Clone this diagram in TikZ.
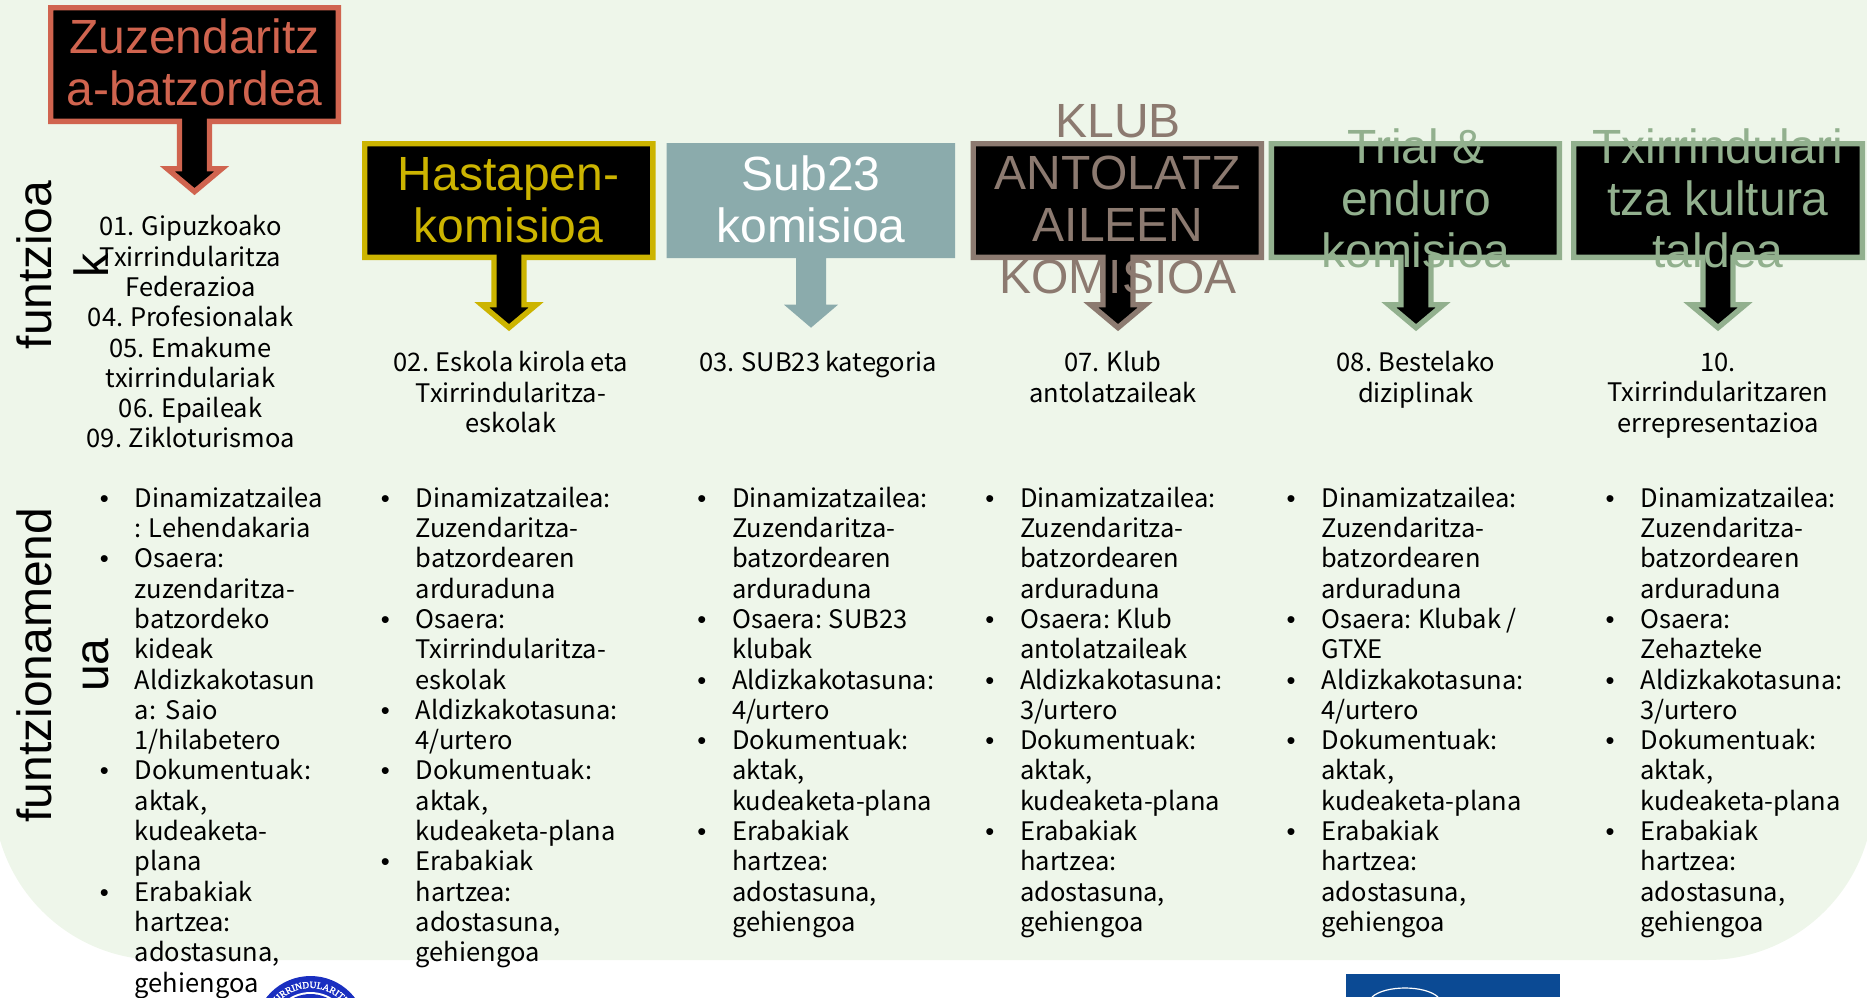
\documentclass[tikz,border=0pt]{standalone}
\usepackage{fontspec}
\setmainfont{Noto Sans CJK SC}[WordSpace=0.85]
\newfontfamily\bulfont{Liberation Sans}
\newfontfamily\titlefont{Liberation Sans}
\newfontfamily\logofont{Liberation Serif}[FakeBold=2]
\usetikzlibrary{decorations.text}
\definecolor{bgpale}{HTML}{EEF6EA}
\definecolor{cred}{HTML}{D0644F}
\definecolor{cyellow}{HTML}{CCB400}
\definecolor{cteal}{HTML}{8BABAC}
\definecolor{cbrown}{HTML}{8C7A70}
\definecolor{cgreen}{HTML}{92B08E}
\definecolor{logoblue}{HTML}{1A2FC0}
\definecolor{logonavy}{HTML}{0B4A94}
\newcommand{\bu}{\makebox[0pt][r]{{\bulfont •}\hspace{26pt}}}
\newcommand{\fl}{\rule{0pt}{20pt}}
\newcommand{\tl}{\rule{0pt}{40pt}}
% outer x1, outer x2, arrow centre, outer top, outer bottom, colour
\newcommand{\calloutbox}[6]{%
  \draw[callout,draw=#6]
    ({#1+2.7},{#4+2.7}) -- ({#2-2.7},{#4+2.7}) -- ({#2-2.7},{#5-2.7})
    -- ({#3+15},{#5-2.7}) -- ({#3+15},{#5+44.7}) -- ({#3+27.3},{#5+44.7})
    -- (#3,{#5+67.6}) -- ({#3-27.3},{#5+44.7}) -- ({#3-15},{#5+44.7})
    -- ({#3-15},{#5-2.7}) -- ({#1+2.7},{#5-2.7}) -- cycle;}
\tikzset{
  callout/.style={fill=black,line width=5.4pt,miter limit=10},
  titletext/.style={anchor=north,inner sep=0pt,align=center,
    font=\titlefont\fontsize{48}{52}\selectfont},
  sidetext/.style={anchor=north,inner sep=0pt,align=center,rotate=90,
    font=\titlefont\fontsize{48}{57}\selectfont},
  centertext/.style={anchor=north,inner sep=0pt,align=center,text=black,
    font=\fontsize{25.5}{30.3}\selectfont},
  listtext/.style={anchor=north west,inner sep=0pt,align=left,text=black,
    font=\fontsize{25.5}{30.3}\selectfont},
}
\begin{document}
\begin{tikzpicture}[x=1pt,y=-1pt]
\useasboundingbox (0,0) rectangle (1867,997);
% page panel
\fill[bgpale] (-6.7,0) -- (-6.7,793.3) .. controls (-6.7,885.3) and (68,960) .. (160,960)
  -- (1707,960) .. controls (1799,960) and (1873.7,885.3) .. (1873.7,793.3) -- (1873.7,0) -- cycle;
% logos (cut by the page edge)
\fill[logoblue] (310.5,1032) circle[radius=56];
\fill[white] (310.5,1032) circle[radius=40];
\fill[logoblue] (310.5,1032) circle[radius=38];
\path[decorate,decoration={text along path,text align=center,
    text={|\logofont\fontsize{9.5}{11}\selectfont\color{white}|TXIRRINDULARITZA}}]
  (266.5,1032) arc[start angle=180,end angle=360,radius=44];
\fill[logonavy] (1345.7,974.3) rectangle (1560,997);
\draw[white,line width=1.2pt] (1372,997) .. controls (1385,985) and (1425,985) .. (1438,997);
% callouts
\calloutbox{48}{341}{194.5}{5}{124}{cred}
\calloutbox{362}{655.5}{509}{141}{260}{cyellow}
\fill[cteal] (666.7,143) -- (955,143) -- (955,258) -- (826,258) -- (826,304.7) -- (838,304.7)
  -- (811,327.7) -- (784,304.7) -- (796,304.7) -- (796,258) -- (666.7,258) -- cycle;
\calloutbox{970.5}{1264}{1118}{141}{260}{cbrown}
\calloutbox{1268.7}{1562}{1416}{141}{260}{cgreen}
\calloutbox{1571}{1865}{1718}{141}{260}{cgreen}
% titles
\node[titletext,text=cred] (tzuz) at (194.5,13.5) {\tl Zuzendaritz\\a-batzordea};
\node[titletext,text=cyellow] (thast) at (508.6,150) {\tl Hastapen-\\komisioa};
\node[titletext,text=white] (tsub) at (811,150) {\tl Sub23\\komisioa};
\node[titletext,text=cbrown] (tklub) at (1118,97) {\tl KLUB\\ANTOLATZ\\AILEEN\\KOMISIOA};
\node[titletext,text=cgreen] (ttrial) at (1416,123) {\tl Trial \&\\enduro\\komisioa};
\node[titletext,text=cgreen] (ttxir) at (1718,123) {\tl Txirrindulari\\tza kultura\\taldea};
% side labels
\node[sidetext] (sfun) at (11,265) {\tl funtzioa\\k};
\node[sidetext] (sfunc) at (11,665) {\tl funtzionamend\\ua};
% function lists
\node[centertext] (f1) at (190.6,215.3) {\fl 01. Gipuzkoako\\Txirrindularitza\\Federazioa\\04. Profesionalak\\05. Emakume\\txirrindulariak\\06. Epaileak\\09. Zikloturismoa};
\node[centertext] (f2) at (511,351.2) {\fl 02. Eskola kirola eta\\Txirrindularitza-\\eskolak};
\node[centertext] (f3) at (818,351.2) {\fl 03. SUB23 kategoria};
\node[centertext] (f4) at (1113,351.2) {\fl 07. Klub\\antolatzaileak};
\node[centertext] (f5) at (1416,351.2) {\fl 08. Bestelako\\diziplinak};
\node[centertext] (f6) at (1718,351.2) {\fl 10.\\Txirrindularitzaren\\errepresentazioa};
% detail lists
\node[listtext] (l1) at (134.5,486.7) {\fl\bu Dinamizatzailea\\: Lehendakaria\\\bu Osaera:\\zuzendaritza-\\batzordeko\\kideak\\Aldizkakotasun\\a:~~Saio\\1/hilabetero\\\bu Dokumentuak:\\aktak,\\kudeaketa-\\plana\\\bu Erabakiak\\hartzea:\\adostasuna,\\gehiengoa};
\node[listtext] (l2) at (415.5,486.7) {\fl\bu Dinamizatzailea:\\Zuzendaritza-\\batzordearen\\arduraduna\\\bu Osaera:\\Txirrindularitza-\\eskolak\\\bu Aldizkakotasuna:\\4/urtero\\\bu Dokumentuak:\\aktak,\\kudeaketa-plana\\\bu Erabakiak\\hartzea:\\adostasuna,\\gehiengoa};
\node[listtext] (l3) at (732,486.7) {\fl\bu Dinamizatzailea:\\Zuzendaritza-\\batzordearen\\arduraduna\\\bu Osaera: SUB23\\klubak\\\bu Aldizkakotasuna:\\4/urtero\\\bu Dokumentuak:\\aktak,\\kudeaketa-plana\\\bu Erabakiak\\hartzea:\\adostasuna,\\gehiengoa};
\node[listtext] (l4) at (1020,486.7) {\fl\bu Dinamizatzailea:\\Zuzendaritza-\\batzordearen\\arduraduna\\\bu Osaera: Klub\\antolatzaileak\\\bu Aldizkakotasuna:\\3/urtero\\\bu Dokumentuak:\\aktak,\\kudeaketa-plana\\\bu Erabakiak\\hartzea:\\adostasuna,\\gehiengoa};
\node[listtext] (l5) at (1321.3,486.7) {\fl\bu Dinamizatzailea:\\Zuzendaritza-\\batzordearen\\arduraduna\\\bu Osaera: Klubak /\\GTXE\\\bu Aldizkakotasuna:\\4/urtero\\\bu Dokumentuak:\\aktak,\\kudeaketa-plana\\\bu Erabakiak\\hartzea:\\adostasuna,\\gehiengoa};
\node[listtext] (l6) at (1640.3,486.7) {\fl\bu Dinamizatzailea:\\Zuzendaritza-\\batzordearen\\arduraduna\\\bu Osaera:\\Zehazteke\\\bu Aldizkakotasuna:\\3/urtero\\\bu Dokumentuak:\\aktak,\\kudeaketa-plana\\\bu Erabakiak\\hartzea:\\adostasuna,\\gehiengoa};
\end{tikzpicture}
\end{document}
